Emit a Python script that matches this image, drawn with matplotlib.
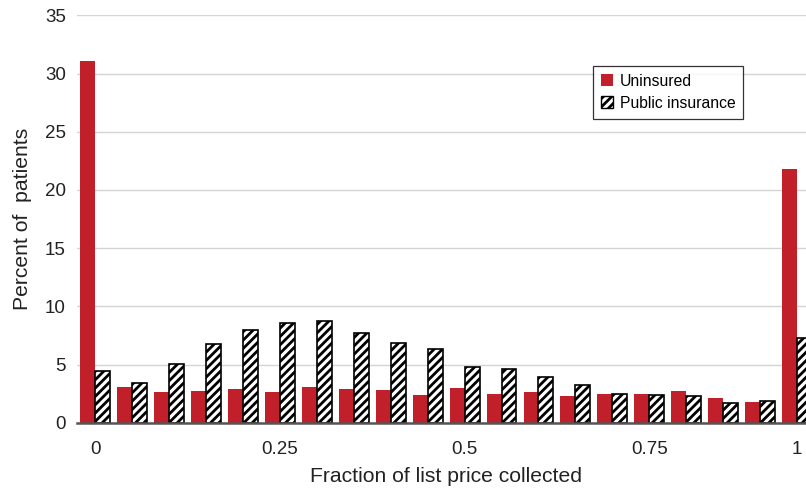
import numpy as np
import matplotlib.pyplot as plt
from matplotlib.patches import Patch

plt.rcParams['font.family'] = ['Liberation Sans', 'DejaVu Sans']
plt.rcParams['hatch.linewidth'] = 2.0

# 20 bins of fraction of list price collected
uninsured = [31.1, 3.06, 2.63, 2.72, 2.89, 2.63, 3.06, 2.89, 2.80, 2.37,
             2.97, 2.46, 2.63, 2.29, 2.46, 2.46, 2.72, 2.12, 1.78, 21.76]
public = [4.43, 3.38, 5.06, 6.78, 7.95, 8.6, 8.7, 7.7, 6.85, 6.32,
          4.78, 4.58, 3.89, 3.23, 2.46, 2.37, 2.26, 1.69, 1.83, 7.24]
tick_pos = [0, 5, 10, 15, 19]
tick_labels = ['0', '0.25', '0.5', '0.75', '1']

red = '#C1202A'
x = np.arange(len(uninsured))
w = 0.405

fig = plt.figure(figsize=(8.06, 4.91), dpi=100)
ax = fig.add_axes([0.0955, 0.1391, 0.9161, 0.8297])

ax.bar(x - w/2, uninsured, w, color=red, zorder=2)
ax.bar(x + w/2, public, w, color='white', edgecolor='black', hatch='////',
       linewidth=1.2, zorder=2)

ax.set_xlim(-0.5, 19.5)
ax.set_ylim(0, 35)
ax.set_yticks(range(0, 36, 5))
ax.set_xticks(tick_pos)
ax.set_xticklabels(tick_labels)
ax.tick_params(axis='both', length=0, labelsize=13.5, colors='#222222')
ax.tick_params(axis='y', pad=8)
ax.tick_params(axis='x', pad=13)

ax.grid(axis='y', color='#d4d4d4', linewidth=1, zorder=0)
ax.set_axisbelow(True)
for s in ['top', 'right', 'left']:
    ax.spines[s].set_visible(False)
ax.spines['bottom'].set_color('#555555')
ax.spines['bottom'].set_linewidth(1.8)

ax.set_xlabel('Fraction of list price collected', fontsize=15.2, color='#222222', labelpad=7)
ax.set_ylabel('Percent of  patients', fontsize=15.2, color='#222222', labelpad=9)

handles = [Patch(facecolor=red, label='Uninsured'),
           Patch(facecolor='white', edgecolor='black', hatch='////', label='Public insurance')]
leg = fig.legend(handles=handles, loc='upper left',
                 bbox_to_anchor=(593/806, 1 - 66/491), fontsize=11.3,
                 frameon=True, fancybox=False, edgecolor='black',
                 borderaxespad=0,
                 handlelength=0.8, handleheight=0.8, handletextpad=0.4,
                 borderpad=0.5, labelspacing=0.45)
leg.get_frame().set_linewidth(0.9)

plt.savefig('out.png', dpi=100)
